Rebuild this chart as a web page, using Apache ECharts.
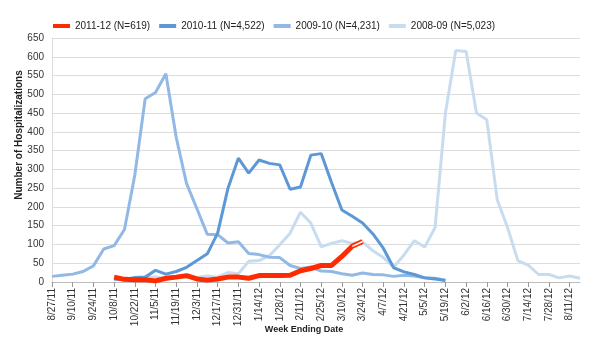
<!DOCTYPE html>
<html>
<head>
<meta charset="utf-8">
<script src="https://cdn.jsdelivr.net/npm/echarts@6/dist/echarts.min.js"></script>
<style>
  html, body { margin: 0; padding: 0; background: #fff; }
  #main { width: 600px; height: 350px; }
</style>
</head>
<body>
<div id="main"></div>
<script>
// week ending dates, 8/27/11 .. 8/18/12
var weeks = ['8/27/11','9/3/11','9/10/11','9/17/11','9/24/11','10/1/11','10/8/11','10/15/11','10/22/11','10/29/11',
  '11/5/11','11/12/11','11/19/11','11/26/11','12/3/11','12/10/11','12/17/11','12/24/11','12/31/11','1/7/12',
  '1/14/12','1/21/12','1/28/12','2/4/12','2/11/12','2/18/12','2/25/12','3/3/12','3/10/12','3/17/12',
  '3/24/12','3/31/12','4/7/12','4/14/12','4/21/12','4/28/12','5/5/12','5/12/12','5/19/12','5/26/12',
  '6/2/12','6/9/12','6/16/12','6/23/12','6/30/12','7/7/12','7/14/12','7/21/12','7/28/12','8/4/12',
  '8/11/12','8/18/12'];

var s1112 = [null,null,null,null,null,null,13,7,6,6,3,10,13,17,8,5,8,13,13,10,17,17,17,18,30,36,44,44,68,95,108];
// last week is preliminary (drawn hollow)
var s1112prelim = [null,null,null,null,null,null,null,null,null,null,null,null,null,null,null,null,null,null,null,null,
  null,null,null,null,null,null,null,null,null,95,108];
var s1011 = [null,null,null,null,null,null,8,6,12,13,31,21,28,39,57,75,130,250,330,290,325,316,312,247,253,338,342,265,
  192,175,157,128,90,38,27,20,11,8,4];
var s0910 = [15,18,21,28,43,88,97,140,285,488,505,555,385,262,195,127,126,104,107,76,73,66,65,44,36,40,29,28,22,18,24,
  20,19,15,18,16,11,10,5];
var s0809 = [null,null,null,null,null,null,8,5,8,10,14,6,14,12,12,16,13,25,22,55,57,70,99,130,186,157,94,103,110,103,107,
  83,65,40,72,110,93,145,450,617,614,450,432,220,145,57,45,20,20,11,16,10];

var names = ['2011-12 (N=619)', '2010-11 (N=4,522)', '2009-10 (N=4,231)', '2008-09 (N=5,023)'];

var chart = echarts.init(document.getElementById('main'));

function line(name, data, color, width, z) {
  return {
    name: name, type: 'line', data: data, showSymbol: false, symbol: 'none',
    connectNulls: false, z: z, animation: false,
    lineStyle: { color: color, width: width }, itemStyle: { color: color }
  };
}

chart.setOption({
  textStyle: { fontFamily: 'Liberation Sans, Arial, sans-serif' },
  legend: {
    data: names, top: 16, left: 48, itemGap: 9, itemWidth: 17, itemHeight: 4,
    icon: 'rect',
    textStyle: { fontSize: 10, color: '#222' }
  },
  grid: { left: 52, right: 20, top: 38, bottom: 68 },
  xAxis: {
    type: 'category', data: weeks, boundaryGap: false,
    name: 'Week Ending Date', nameLocation: 'middle', nameGap: 43, nameMoveOverlap: false,
    nameTextStyle: { fontSize: 9, fontWeight: 'bold', color: '#222', padding: [0, 24, 0, 0] },
    axisLine: { lineStyle: { color: '#bbb' } },
    axisTick: { interval: 1, length: 5, lineStyle: { color: '#999' } },
    axisLabel: { interval: 1, rotate: 90, fontSize: 10, color: '#333', margin: 6 }
  },
  yAxis: {
    type: 'value', min: 0, max: 650, interval: 50,
    name: 'Number of Hospitalizations', nameLocation: 'middle', nameGap: 28, nameMoveOverlap: false,
    nameTextStyle: { fontSize: 10, fontWeight: 'bold', color: '#222', padding: [0, 0, 0, 50] },
    axisLine: { show: true, lineStyle: { color: '#ddd' } },
    axisTick: { show: false },
    axisLabel: { fontSize: 10, color: '#333', margin: 8 },
    splitLine: { lineStyle: { color: '#dcdcdc' } }
  },
  series: [
    line(names[3], s0809, '#c8dcf0', 3, 2),
    line(names[2], s0910, '#92b9e6', 3, 3),
    line(names[1], s1011, '#5d98d6', 3, 4),
    line(names[0], s1112, '#ff2a00', 5, 5),
    line('prelim', s1112prelim, '#ffffff', 1.5, 6)
  ]
});
</script>
</body>
</html>
